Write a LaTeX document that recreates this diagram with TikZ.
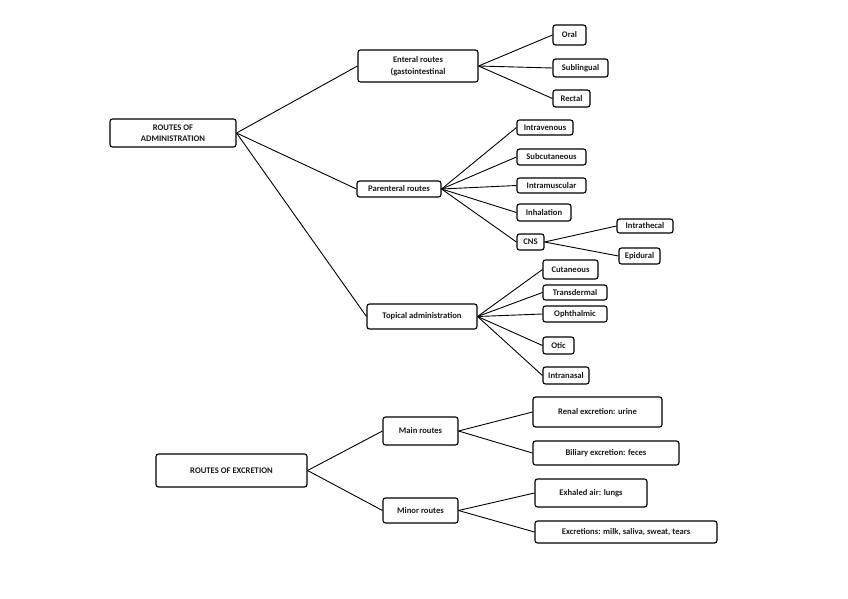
\documentclass[tikz,border=0pt]{standalone}
\usepackage{fontspec}
\setmainfont{Carlito}
\begin{document}
\begin{tikzpicture}[x=1pt,y=-1pt,
  bx/.style={draw=black,line width=1.1pt,rounded corners=2.5pt,inner sep=0pt,align=center,
    font=\fontsize{8.6}{11.5}\selectfont\bfseries,text=black!90},
  ln/.style={draw=black,line width=0.9pt}]
\useasboundingbox (0,0) rectangle (848,599);
% administration
\node[bx,minimum width=126pt,minimum height=28pt] (adm) at (173,133) {ROUTES OF\\ADMINISTRATION};
\node[bx,minimum width=120pt,minimum height=32pt] (ent) at (418,66) {Enteral routes\\(gastointestinal};
\node[bx,minimum width=33pt,minimum height=20pt] (oral) at (569.5,35) {Oral};
\node[bx,minimum width=55pt,minimum height=18pt] (subl) at (580.5,68) {Sublingual};
\node[bx,minimum width=37pt,minimum height=17pt] (rect) at (571.5,98.5) {Rectal};
\node[bx,minimum width=84pt,minimum height=16pt] (par) at (399,189) {Parenteral routes};
\node[bx,minimum width=56pt,minimum height=15pt] (iv) at (545,127.5) {Intravenous};
\node[bx,minimum width=69pt,minimum height=16pt] (sc) at (551.5,157) {Subcutaneous};
\node[bx,minimum width=69pt,minimum height=15pt] (im) at (551.5,185.5) {Intramuscular};
\node[bx,minimum width=54pt,minimum height=17pt] (inh) at (544,212.5) {Inhalation};
\node[bx,minimum width=27pt,minimum height=16pt] (cns) at (530.5,242) {CNS};
\node[bx,minimum width=56pt,minimum height=14pt] (ith) at (645,226) {Intrathecal};
\node[bx,minimum width=41pt,minimum height=16pt] (epi) at (639.5,256) {Epidural};
\node[bx,minimum width=110pt,minimum height=25pt] (top) at (422,316.5) {Topical administration};
\node[bx,minimum width=55pt,minimum height=19pt] (cut) at (570.5,269.5) {Cutaneous};
\node[bx,minimum width=64pt,minimum height=15pt] (trd) at (575,292.5) {Transdermal};
\node[bx,minimum width=64pt,minimum height=16pt] (oph) at (575,314) {Ophthalmic};
\node[bx,minimum width=31pt,minimum height=17pt] (otic) at (558.5,345.5) {Otic};
\node[bx,minimum width=46pt,minimum height=17pt] (ina) at (566,375.5) {Intranasal};
% excretion
\node[bx,minimum width=151pt,minimum height=33pt] (exc) at (231.5,470.5) {ROUTES OF EXCRETION};
\node[bx,minimum width=75pt,minimum height=28pt] (mainr) at (420.5,431) {Main routes};
\node[bx,minimum width=75pt,minimum height=25pt] (minr) at (420.5,510.5) {Minor routes};
\node[bx,minimum width=129pt,minimum height=30pt] (ren) at (597.5,412) {Renal excretion: urine};
\node[bx,minimum width=146pt,minimum height=24pt] (bil) at (606,453) {Biliary excretion: feces};
\node[bx,minimum width=112pt,minimum height=28pt] (exh) at (591,493) {Exhaled air: lungs};
\node[bx,minimum width=182pt,minimum height=22pt] (excr) at (626,532) {Excretions: milk, saliva, sweat, tears};
% connectors
\foreach \t in {ent,par,top} \draw[ln] (adm.east) -- (\t.west);
\foreach \t in {oral,subl,rect} \draw[ln] (ent.east) -- (\t.west);
\foreach \t in {iv,sc,im,inh,cns} \draw[ln] (par.east) -- (\t.west);
\foreach \t in {ith,epi} \draw[ln] (cns.east) -- (\t.west);
\foreach \t in {cut,trd,oph,otic,ina} \draw[ln] (top.east) -- (\t.west);
\foreach \t in {mainr,minr} \draw[ln] (exc.east) -- (\t.west);
\foreach \t in {ren,bil} \draw[ln] (mainr.east) -- (\t.west);
\foreach \t in {exh,excr} \draw[ln] (minr.east) -- (\t.west);
\end{tikzpicture}
\end{document}
